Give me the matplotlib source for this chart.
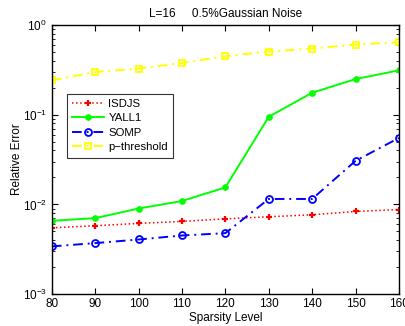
import matplotlib
matplotlib.use("Agg")
import matplotlib.pyplot as plt
import numpy as np

plt.rcParams["font.family"] = ["Liberation Sans", "DejaVu Sans"]
plt.rcParams["mathtext.fontset"] = "custom"
plt.rcParams["mathtext.rm"] = "Liberation Sans"

sparsity = [80, 90, 100, 110, 120, 130, 140, 150, 160]
isdjs = [0.00548, 0.00578, 0.00614, 0.00646, 0.0069, 0.00728, 0.00766, 0.00834, 0.00877]
yall1 = [0.00656, 0.00703, 0.0090, 0.0109, 0.0155, 0.095, 0.176, 0.25, 0.313]
somp = [0.0034, 0.0037, 0.00406, 0.0045, 0.00478, 0.0115, 0.0115, 0.0306, 0.0551]
p_threshold = [0.242, 0.30, 0.327, 0.378, 0.45, 0.507, 0.548, 0.607, 0.645]

fig = plt.figure(figsize=(4.05, 3.26), dpi=100)
ax = fig.add_axes([0.128, 0.098, 0.857, 0.825])

ax.semilogy(sparsity, isdjs, color="red", linestyle=":", linewidth=1.1,
            marker="+", markersize=5, markeredgewidth=1.6, label="ISDJS")
ax.semilogy(sparsity, yall1, color="#00ff00", linestyle="-", linewidth=1.4,
            marker="o", markersize=3.8, label="YALL1")
ax.semilogy(sparsity, somp, color="blue", linestyle=(0, (5, 2.5, 1, 2.5)), linewidth=1.4,
            marker="o", markersize=5, markerfacecolor="none", markeredgewidth=1.3,
            label="SOMP")
ax.semilogy(sparsity, p_threshold, color="yellow", linestyle=(0, (5, 2.5, 1, 2.5)),
            linewidth=1.4, marker="s", markersize=4.5, markerfacecolor="none",
            markeredgewidth=1.3, label="p\u2212threshold")

ax.set_xlim(80, 160)
ax.set_ylim(1e-3, 1)
ax.set_xticks(sparsity)
ax.set_xticklabels([str(v) for v in sparsity])
ax.tick_params(which="both", direction="in", top=True, right=True, labelsize=8.5)
ax.tick_params(which="major", length=4)
ax.tick_params(which="minor", length=2)
ax.tick_params(axis="x", pad=3)
for s in ax.spines.values():
    s.set_linewidth(1.0)

ax.set_xlabel("Sparsity Level", fontsize=8.5, labelpad=1)
ax.set_ylabel("Relative Error", fontsize=8.5, labelpad=0)
ax.set_title("L=16     0.5%Gaussian Noise", fontsize=8.5, pad=6)

leg = ax.legend(loc="upper left", bbox_to_anchor=(0.043, 0.745), fontsize=8.2,
                frameon=True, fancybox=False, edgecolor="black",
                handlelength=2.8, borderpad=0.45, labelspacing=0.4,
                handletextpad=0.4, borderaxespad=0)
leg.get_frame().set_linewidth(0.8)

fig.savefig("out.png", dpi=100)
